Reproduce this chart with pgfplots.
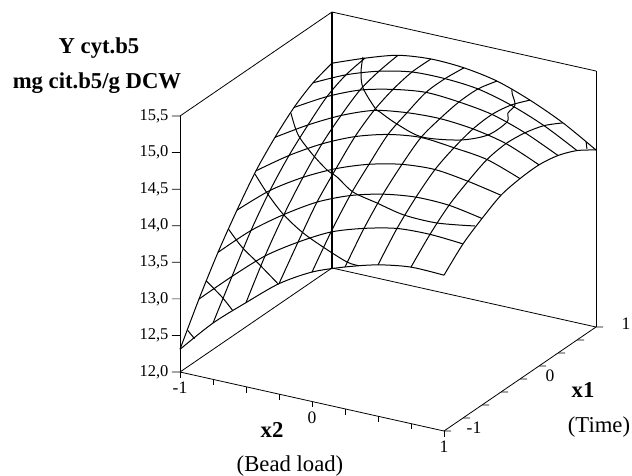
\documentclass[border=0pt]{standalone}
\usepackage{pgfplots}
\pgfplotsset{compat=1.18}
\usepackage{fontspec}
\setmainfont{Liberation Serif}
\begin{document}
\begin{tikzpicture}
\useasboundingbox (-180pt,-44pt) rectangle (452pt,431pt);
\begin{axis}[
  at={(0pt,0pt)},anchor=south west,
  x={(132pt,-29.5pt)},y={(76pt,52pt)},z={(0pt,73.14pt)},
  xmin=-1,xmax=1,ymin=-1,ymax=1,zmin=12,zmax=15.5,
  clip=false,
  axis line style={line width=0.8pt,black},
  major tick length=0pt,
  xtick={-1,0,1},ytick={-1,0,1},ztick={12,12.5,13,13.5,14,14.5,15,15.5},
  xticklabels={-1,0,1},yticklabels={-1,0,1},
  zticklabels={{12,0},{12,5},{13,0},{13,5},{14,0},{14,5},{15,0},{15,5}},
  xticklabel style={font=\fontsize{17.5}{20}\selectfont,anchor=center,yshift=-16pt},
  yticklabel style={font=\fontsize{17.5}{20}\selectfont,anchor=center,xshift=30pt,yshift=3pt},
  zticklabel style={font=\fontsize{16.5}{20}\selectfont,anchor=east,xshift=-8pt},
  mesh line/.style={black,line width=1pt,smooth},
]
% back vertical edge
\addplot3[black,line width=1.05pt] coordinates {(-1,1,12)(-1,1,15.5)};
% surface: lines of constant x1
\addplot3[mesh line] coordinates {(-1,-1,12.31)(-0.75,-1,12.77)(-0.5,-1,13.15)(-0.25,-1,13.51)(0,-1,13.77)(0.25,-1,13.94)(0.5,-1,14.07)(0.75,-1,14.14)(1,-1,14.13)};
\addplot3[mesh line] coordinates {(-1,-0.75,12.82)(-0.75,-0.75,13.23)(-0.5,-0.75,13.61)(-0.25,-0.75,13.90)(0,-0.75,14.14)(0.25,-0.75,14.29)(0.5,-0.75,14.39)(0.75,-0.75,14.41)(1,-0.75,14.38)};
\addplot3[mesh line] coordinates {(-1,-0.5,13.28)(-0.75,-0.5,13.68)(-0.5,-0.5,14.00)(-0.25,-0.5,14.27)(0,-0.5,14.46)(0.25,-0.5,14.58)(0.5,-0.5,14.64)(0.75,-0.5,14.63)(1,-0.5,14.55)};
\addplot3[mesh line] coordinates {(-1,-0.25,13.68)(-0.75,-0.25,14.05)(-0.5,-0.25,14.33)(-0.25,-0.25,14.55)(0,-0.25,14.71)(0.25,-0.25,14.81)(0.5,-0.25,14.84)(0.75,-0.25,14.78)(1,-0.25,14.69)};
\addplot3[mesh line] coordinates {(-1,0,14.04)(-0.75,0,14.35)(-0.5,0,14.61)(-0.25,0,14.81)(0,0,14.94)(0.25,0,15.00)(0.5,0,14.96)(0.75,0,14.90)(1,0,14.74)};
\addplot3[mesh line] coordinates {(-1,0.25,14.32)(-0.75,0.25,14.59)(-0.5,0.25,14.82)(-0.25,0.25,14.99)(0,0.25,15.06)(0.25,0.25,15.08)(0.5,0.25,15.04)(0.75,0.25,14.94)(1,0.25,14.75)};
\addplot3[mesh line] coordinates {(-1,0.5,14.55)(-0.75,0.5,14.80)(-0.5,0.5,14.99)(-0.25,0.5,15.10)(0,0.5,15.16)(0.25,0.5,15.13)(0.5,0.5,15.06)(0.75,0.5,14.91)(1,0.5,14.70)};
\addplot3[mesh line] coordinates {(-1,0.75,14.71)(-0.75,0.75,14.92)(-0.5,0.75,15.07)(-0.25,0.75,15.16)(0,0.75,15.17)(0.25,0.75,15.13)(0.5,0.75,15.01)(0.75,0.75,14.83)(1,0.75,14.59)};
\addplot3[mesh line] coordinates {(-1,1,14.80)(-0.75,1,14.97)(-0.5,1,15.11)(-0.25,1,15.16)(0,1,15.14)(0.25,1,15.06)(0.5,1,14.90)(0.75,1,14.69)(1,1,14.42)};
% surface: lines of constant x2
\addplot3[mesh line] coordinates {(-1,-1,12.31)(-1,-0.75,12.82)(-1,-0.5,13.28)(-1,-0.25,13.68)(-1,0,14.04)(-1,0.25,14.32)(-1,0.5,14.55)(-1,0.75,14.71)(-1,1,14.80)};
\addplot3[mesh line] coordinates {(-0.75,-1,12.77)(-0.75,-0.75,13.23)(-0.75,-0.5,13.68)(-0.75,-0.25,14.05)(-0.75,0,14.35)(-0.75,0.25,14.59)(-0.75,0.5,14.80)(-0.75,0.75,14.92)(-0.75,1,14.97)};
\addplot3[mesh line] coordinates {(-0.5,-1,13.15)(-0.5,-0.75,13.61)(-0.5,-0.5,14.00)(-0.5,-0.25,14.33)(-0.5,0,14.61)(-0.5,0.25,14.82)(-0.5,0.5,14.99)(-0.5,0.75,15.07)(-0.5,1,15.11)};
\addplot3[mesh line] coordinates {(-0.25,-1,13.51)(-0.25,-0.75,13.90)(-0.25,-0.5,14.27)(-0.25,-0.25,14.55)(-0.25,0,14.81)(-0.25,0.25,14.99)(-0.25,0.5,15.10)(-0.25,0.75,15.16)(-0.25,1,15.16)};
\addplot3[mesh line] coordinates {(0,-1,13.77)(0,-0.75,14.14)(0,-0.5,14.46)(0,-0.25,14.71)(0,0,14.94)(0,0.25,15.06)(0,0.5,15.16)(0,0.75,15.17)(0,1,15.14)};
\addplot3[mesh line] coordinates {(0.25,-1,13.94)(0.25,-0.75,14.29)(0.25,-0.5,14.58)(0.25,-0.25,14.81)(0.25,0,15.00)(0.25,0.25,15.08)(0.25,0.5,15.13)(0.25,0.75,15.13)(0.25,1,15.06)};
\addplot3[mesh line] coordinates {(0.5,-1,14.07)(0.5,-0.75,14.39)(0.5,-0.5,14.64)(0.5,-0.25,14.84)(0.5,0,14.96)(0.5,0.25,15.04)(0.5,0.5,15.06)(0.5,0.75,15.01)(0.5,1,14.90)};
\addplot3[mesh line] coordinates {(0.75,-1,14.14)(0.75,-0.75,14.41)(0.75,-0.5,14.63)(0.75,-0.25,14.78)(0.75,0,14.90)(0.75,0.25,14.94)(0.75,0.5,14.91)(0.75,0.75,14.83)(0.75,1,14.69)};
\addplot3[mesh line] coordinates {(1,-1,14.13)(1,-0.75,14.38)(1,-0.5,14.55)(1,-0.25,14.69)(1,0,14.74)(1,0.25,14.75)(1,0.5,14.70)(1,0.75,14.59)(1,1,14.42)};
% contour lines
\addplot3[black,line width=1pt] coordinates {(-1,-0.90,12.5)(-0.89,-1,12.5)};
\addplot3[mesh line] coordinates {(-1,-0.654,13)(-0.776,-0.837,13)(-0.60,-1,13)};
\addplot3[mesh line] coordinates {(-1,-0.362,13.5)(-0.774,-0.578,13.5)(-0.549,-0.758,13.5)(-0.2535,-1,13.5)};
\addplot3[mesh line] coordinates {(-1,-0.011,14)(-0.776,-0.244,14)(-0.51,-0.496,14)(-0.251,-0.696,14)(-0.006,-0.845,14)(0.256,-0.985,14)(0.353,-1,14)};
\addplot3[mesh line] coordinates {(-1,0.46,14.5)(-0.862,0.2735,14.5)(-0.742,0.13,14.5)(-0.5255,-0.074,14.5)(-0.32,-0.246,14.5)(-0.205,-0.315,14.5)(0.012,-0.481,14.5)(0.24,-0.5625,14.5)(0.495,-0.649,14.5)(0.75,-0.658,14.5)(0.992,-0.5785,14.5)};
\addplot3[mesh line] coordinates {(-0.753,0.978,15)(-0.639,0.7545,15)(-0.494,0.529,15)(-0.2585,0.278,15)(-0.197,0.236,15)(0,0.117,15)(0.252,0.01,15)(0.494,0.0895,15)(0.612,0.2527,15)(0.612,0.503,15)(0.543,0.636,15)(0.516,0.775,15)(0.399,0.939,15)(0.365,1,15)};
\addplot3[black,line width=1pt] coordinates {(0.925,1,14.5)(0.989,0.90,14.5)};
% tick marks
\addplot3[black,line width=0.7pt,unbounded coords=jump] coordinates {
(-1,-1,12)(-1,-1,11.92)(nan,nan,nan)(-0.75,-1,12)(-0.75,-1,11.92)(nan,nan,nan)(-0.5,-1,12)(-0.5,-1,11.92)(nan,nan,nan)(-0.25,-1,12)(-0.25,-1,11.92)(nan,nan,nan)(0,-1,12)(0,-1,11.92)(nan,nan,nan)(0.25,-1,12)(0.25,-1,11.92)(nan,nan,nan)(0.5,-1,12)(0.5,-1,11.92)(nan,nan,nan)(0.75,-1,12)(0.75,-1,11.92)(nan,nan,nan)(1,-1,12)(1,-1,11.92)
};
\addplot3[black,line width=0.7pt,unbounded coords=jump] coordinates {
(1,-1,12)(1.04,-0.9773,12)(nan,nan,nan)(1,-0.75,12)(1.04,-0.7273,12)(nan,nan,nan)(1,-0.5,12)(1.04,-0.4773,12)(nan,nan,nan)(1,-0.25,12)(1.04,-0.2273,12)(nan,nan,nan)(1,0,12)(1.04,0.0227,12)(nan,nan,nan)(1,0.25,12)(1.04,0.2727,12)(nan,nan,nan)(1,0.5,12)(1.04,0.5227,12)(nan,nan,nan)(1,0.75,12)(1.04,0.7727,12)(nan,nan,nan)(1,1,12)(1.04,1.0227,12)
};
\addplot3[black,line width=0.7pt,unbounded coords=jump] coordinates {
(-1,-1,12)(-1.0457,-1.0259,12)(nan,nan,nan)(-1,-1,12.5)(-1.0457,-1.0259,12.5)(nan,nan,nan)(-1,-1,13)(-1.0457,-1.0259,13)(nan,nan,nan)(-1,-1,13.5)(-1.0457,-1.0259,13.5)(nan,nan,nan)(-1,-1,14)(-1.0457,-1.0259,14)(nan,nan,nan)(-1,-1,14.5)(-1.0457,-1.0259,14.5)(nan,nan,nan)(-1,-1,15)(-1.0457,-1.0259,15)(nan,nan,nan)(-1,-1,15.5)(-1.0457,-1.0259,15.5)
};
\end{axis}
\node[font=\bfseries\fontsize{22.7}{24}\selectfont] at (99pt-180pt,431pt-48pt) {Y cyt.b5};
\node[font=\bfseries\fontsize{22.7}{24}\selectfont] at (97pt-180pt,431pt-83pt) {mg cit.b5/g DCW};
\node[font=\bfseries\fontsize{22.7}{24}\selectfont] at (272pt-180pt,431pt-430pt) {x2};
\node[font=\fontsize{22.7}{24}\selectfont] at (290pt-180pt,431pt-466pt) {(Bead load)};
\node[font=\bfseries\fontsize{22.7}{24}\selectfont] at (583pt-180pt,431pt-390pt) {x1};
\node[font=\fontsize{22.7}{24}\selectfont] at (599pt-180pt,431pt-427pt) {(Time)};
\end{tikzpicture}
\end{document}
